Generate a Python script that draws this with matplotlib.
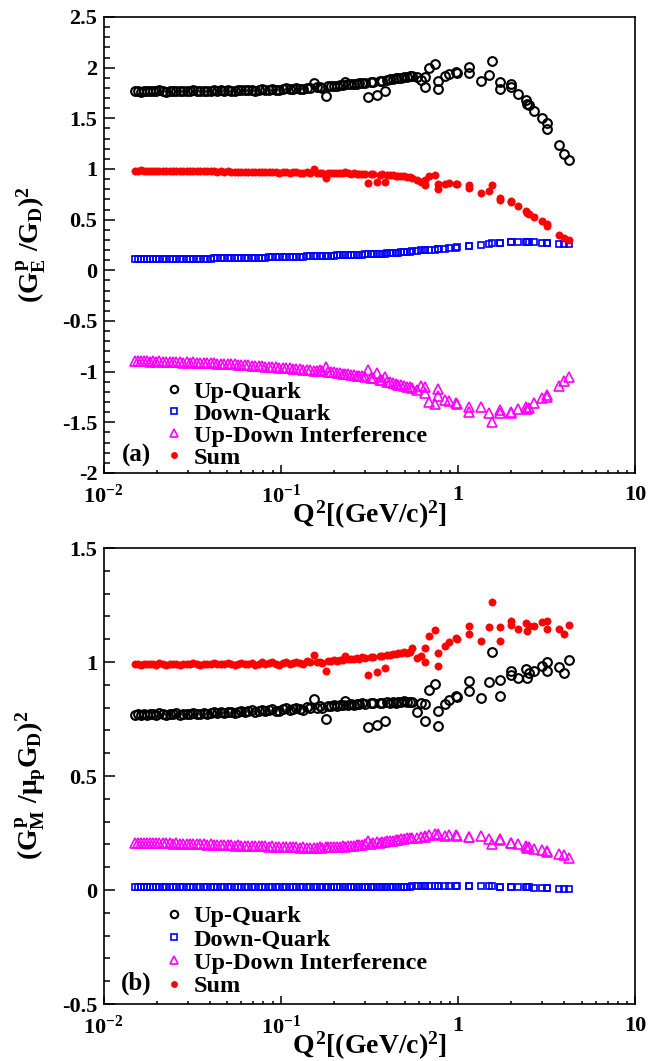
"""Quark flavour decomposition of the proton form factors (two panels)
"""

import numpy as np
import matplotlib
matplotlib.use('Agg')
import matplotlib.pyplot as plt
from matplotlib.ticker import (FixedLocator, FixedFormatter, MultipleLocator,
                               LogLocator, NullFormatter, FuncFormatter)

# ---------------------------------------------------------------- data
# Q^2 in (GeV/c)^2, shared by both panels and all four series
q2 = [
    # dense low-Q2 part
    0.0151, 0.0157, 0.0163, 0.0169, 0.0176, 0.0183, 0.0190, 0.0198, 0.0207, 0.0216,
    0.0226, 0.0236, 0.0247, 0.0258, 0.0270, 0.0282, 0.0295, 0.0308, 0.0322, 0.0337,
    0.0352, 0.0368, 0.0385, 0.0403, 0.0421, 0.0440, 0.0460, 0.0481, 0.0503, 0.0526,
    0.0550, 0.0575, 0.0601, 0.0628, 0.0657, 0.0687, 0.0718, 0.0751, 0.0785, 0.0821,
    0.0858, 0.0897, 0.0938, 0.0981, 0.1026, 0.1073, 0.1122, 0.1173, 0.1226, 0.1282,
    0.1340, 0.1401, 0.1465,
    # scattered points
    0.155, 0.180, 0.231, 0.311, 0.349, 0.387,
    # dense mid part
    0.160, 0.166, 0.172, 0.186, 0.193, 0.200, 0.208, 0.216, 0.224, 0.240,
    0.249, 0.258, 0.268, 0.278, 0.289, 0.300, 0.322, 0.334, 0.362, 0.375,
    0.400, 0.415, 0.430, 0.446, 0.462, 0.479, 0.497, 0.516, 0.535,
    # high-Q2 part
    0.549, 0.588, 0.620, 0.653, 0.653, 0.690, 0.739, 0.774, 0.774, 0.847,
    0.887, 0.971, 0.993, 1.150, 1.150, 1.349, 1.497, 1.567, 1.740, 1.740,
    1.988, 1.988, 2.177, 2.440, 2.470, 2.510, 2.707, 2.990, 3.175, 3.175,
    3.724, 3.988, 4.228,
]

# panel (a): (G_E^p / G_D)^2
up_a = [
    1.765, 1.768, 1.762, 1.770, 1.766, 1.772, 1.768, 1.765, 1.776, 1.770,
    1.764, 1.771, 1.768, 1.774, 1.766, 1.770, 1.772, 1.769, 1.775, 1.771,
    1.768, 1.774, 1.770, 1.772, 1.778, 1.770, 1.775, 1.772, 1.779, 1.774,
    1.770, 1.776, 1.781, 1.775, 1.778, 1.784, 1.772, 1.780, 1.786, 1.778,
    1.783, 1.790, 1.781, 1.776, 1.788, 1.795, 1.785, 1.792, 1.798, 1.790,
    1.786, 1.802, 1.795,
    1.853, 1.722, 1.863, 1.706, 1.729, 1.765,
    1.805, 1.812, 1.800, 1.815, 1.818, 1.822, 1.820, 1.826, 1.830, 1.834,
    1.838, 1.836, 1.842, 1.845, 1.848, 1.852, 1.858, 1.862, 1.865, 1.872,
    1.878, 1.884, 1.890, 1.895, 1.900, 1.898, 1.905, 1.910, 1.915,
    1.920, 1.910, 1.880, 1.910, 1.810, 2.000, 2.040, 1.873, 1.788, 1.918,
    1.937, 1.960, 1.944, 2.010, 1.944, 1.873, 1.929, 2.067, 1.863, 1.788,
    1.837, 1.814, 1.738, 1.676, 1.644, 1.627, 1.574, 1.502, 1.453, 1.397,
    1.235, 1.150, 1.090,
]
down_a = [
    0.108, 0.108, 0.109, 0.109, 0.109, 0.110, 0.110, 0.110, 0.111, 0.111,
    0.111, 0.112, 0.112, 0.112, 0.113, 0.113, 0.113, 0.114, 0.114, 0.115,
    0.115, 0.115, 0.116, 0.116, 0.117, 0.117, 0.118, 0.118, 0.119, 0.119,
    0.120, 0.120, 0.121, 0.122, 0.122, 0.123, 0.124, 0.124, 0.125, 0.126,
    0.127, 0.127, 0.128, 0.129, 0.130, 0.131, 0.132, 0.133, 0.134, 0.135,
    0.136, 0.137, 0.139,
    0.140, 0.143, 0.150, 0.160, 0.163, 0.166,
    0.140, 0.141, 0.142, 0.144, 0.145, 0.146, 0.147, 0.148, 0.149, 0.151,
    0.152, 0.153, 0.154, 0.155, 0.156, 0.158, 0.160, 0.162, 0.165, 0.166,
    0.169, 0.170, 0.172, 0.174, 0.175, 0.177, 0.179, 0.181, 0.183,
    0.190, 0.193, 0.196, 0.198, 0.198, 0.201, 0.205, 0.208, 0.208, 0.214,
    0.218, 0.224, 0.226, 0.238, 0.238, 0.250, 0.262, 0.266, 0.272, 0.272,
    0.276, 0.276, 0.277, 0.277, 0.277, 0.277, 0.276, 0.274, 0.272, 0.272,
    0.262, 0.258, 0.255,
]
int_a = [
    -0.895, -0.897, -0.893, -0.899, -0.896, -0.900, -0.898, -0.902, -0.899, -0.904,
    -0.901, -0.906, -0.903, -0.908, -0.905, -0.910, -0.907, -0.912, -0.909, -0.914,
    -0.912, -0.917, -0.914, -0.919, -0.917, -0.922, -0.920, -0.925, -0.923, -0.928,
    -0.927, -0.932, -0.931, -0.936, -0.935, -0.940, -0.940, -0.945, -0.944, -0.950,
    -0.950, -0.955, -0.955, -0.960, -0.961, -0.966, -0.967, -0.972, -0.973, -0.978,
    -0.979, -0.984, -0.986,
    -0.995, -0.950, -1.020, -0.984, -1.016, -1.049,
    -0.990, -0.985, -0.995, -1.000, -1.005, -1.008, -1.012, -1.015, -1.020, -1.025,
    -1.030, -1.033, -1.038, -1.042, -1.047, -1.052, -1.060, -1.066, -1.078, -1.085,
    -1.098, -1.105, -1.113, -1.120, -1.128, -1.135, -1.142, -1.148, -1.155,
    -1.164, -1.180, -1.140, -1.148, -1.213, -1.295, -1.321, -1.236, -1.174, -1.279,
    -1.285, -1.311, -1.318, -1.351, -1.400, -1.344, -1.410, -1.498, -1.377, -1.410,
    -1.410, -1.400, -1.367, -1.344, -1.367, -1.360, -1.311, -1.262, -1.230, -1.246,
    -1.141, -1.092, -1.056,
]
sum_a = [
    0.985, 0.984, 0.986, 0.983, 0.985, 0.984, 0.982, 0.984, 0.985, 0.981,
    0.983, 0.980, 0.982, 0.983, 0.979, 0.981, 0.980, 0.978, 0.981, 0.977,
    0.979, 0.976, 0.978, 0.977, 0.979, 0.974, 0.976, 0.974, 0.976, 0.973,
    0.971, 0.973, 0.975, 0.970, 0.972, 0.974, 0.968, 0.970, 0.973, 0.967,
    0.969, 0.972, 0.966, 0.963, 0.968, 0.971, 0.964, 0.966, 0.969, 0.962,
    0.960, 0.967, 0.962,
    0.997, 0.908, 0.975, 0.860, 0.870, 0.870,
    0.962, 0.960, 0.958, 0.961, 0.958, 0.960, 0.957, 0.959, 0.956, 0.958,
    0.955, 0.957, 0.953, 0.955, 0.952, 0.954, 0.950, 0.948, 0.945, 0.947,
    0.942, 0.940, 0.938, 0.935, 0.933, 0.930, 0.928, 0.925, 0.922,
    0.913, 0.887, 0.870, 0.887, 0.838, 0.926, 0.943, 0.854, 0.798, 0.854,
    0.860, 0.854, 0.848, 0.838, 0.815, 0.762, 0.779, 0.838, 0.716, 0.690,
    0.684, 0.675, 0.631, 0.585, 0.566, 0.560, 0.526, 0.487, 0.454, 0.434,
    0.352, 0.323, 0.303,
]

# panel (b): (G_M^p / mu_p G_D)^2
up_b = [
    0.768, 0.770, 0.766, 0.771, 0.769, 0.772, 0.770, 0.768, 0.775, 0.772,
    0.767, 0.773, 0.771, 0.775, 0.769, 0.772, 0.774, 0.772, 0.777, 0.774,
    0.772, 0.777, 0.774, 0.776, 0.780, 0.775, 0.779, 0.777, 0.782, 0.779,
    0.776, 0.781, 0.785, 0.780, 0.783, 0.788, 0.779, 0.785, 0.790, 0.784,
    0.788, 0.794, 0.787, 0.783, 0.792, 0.798, 0.790, 0.795, 0.800, 0.794,
    0.791, 0.803, 0.797,
    0.838, 0.750, 0.827, 0.713, 0.724, 0.740,
    0.800, 0.805, 0.798, 0.808, 0.806, 0.810, 0.808, 0.812, 0.810, 0.813,
    0.815, 0.812, 0.816, 0.814, 0.818, 0.816, 0.820, 0.818, 0.822, 0.819,
    0.823, 0.821, 0.825, 0.822, 0.826, 0.824, 0.827, 0.823, 0.826,
    0.825, 0.781, 0.820, 0.817, 0.743, 0.879, 0.905, 0.784, 0.718, 0.817,
    0.832, 0.849, 0.846, 0.915, 0.871, 0.842, 0.911, 1.042, 0.922, 0.852,
    0.959, 0.944, 0.930, 0.969, 0.930, 0.952, 0.959, 0.981, 0.999, 0.959,
    0.978, 0.952, 1.010,
]
down_b = [
    0.011, 0.012, 0.012, 0.011, 0.012, 0.012, 0.011, 0.012, 0.012, 0.012,
    0.011, 0.012, 0.012, 0.012, 0.012, 0.011, 0.012, 0.012, 0.012, 0.012,
    0.012, 0.012, 0.012, 0.011, 0.012, 0.012, 0.012, 0.012, 0.012, 0.012,
    0.012, 0.012, 0.012, 0.012, 0.012, 0.012, 0.012, 0.012, 0.012, 0.012,
    0.012, 0.012, 0.012, 0.012, 0.012, 0.012, 0.012, 0.012, 0.012, 0.012,
    0.012, 0.012, 0.012,
    0.012, 0.012, 0.013, 0.013, 0.013, 0.014,
    0.012, 0.012, 0.012, 0.012, 0.012, 0.012, 0.012, 0.013, 0.013, 0.013,
    0.013, 0.013, 0.013, 0.013, 0.013, 0.013, 0.014, 0.014, 0.014, 0.014,
    0.014, 0.014, 0.014, 0.015, 0.015, 0.015, 0.015, 0.015, 0.015,
    0.016, 0.016, 0.017, 0.017, 0.017, 0.017, 0.018, 0.018, 0.018, 0.018,
    0.018, 0.018, 0.018, 0.017, 0.017, 0.016, 0.016, 0.016, 0.014, 0.014,
    0.013, 0.013, 0.012, 0.011, 0.011, 0.011, 0.010, 0.009, 0.008, 0.008,
    0.006, 0.005, 0.004,
]
int_b = [
    0.207, 0.208, 0.206, 0.207, 0.206, 0.207, 0.205, 0.206, 0.205, 0.204,
    0.205, 0.204, 0.203, 0.204, 0.202, 0.203, 0.202, 0.201, 0.202, 0.200,
    0.201, 0.200, 0.199, 0.200, 0.198, 0.199, 0.197, 0.198, 0.196, 0.197,
    0.195, 0.196, 0.194, 0.195, 0.193, 0.194, 0.192, 0.193, 0.191, 0.192,
    0.190, 0.191, 0.190, 0.189, 0.190, 0.188, 0.189, 0.187, 0.188, 0.186,
    0.187, 0.186, 0.186,
    0.183, 0.190, 0.190, 0.215, 0.210, 0.212,
    0.186, 0.187, 0.186, 0.188, 0.188, 0.189, 0.190, 0.190, 0.191, 0.193,
    0.194, 0.195, 0.196, 0.197, 0.199, 0.200, 0.203, 0.205, 0.208, 0.210,
    0.213, 0.215, 0.217, 0.219, 0.221, 0.222, 0.224, 0.226, 0.228,
    0.230, 0.230, 0.232, 0.235, 0.232, 0.240, 0.244, 0.245, 0.240, 0.238,
    0.240, 0.240, 0.238, 0.233, 0.233, 0.238, 0.222, 0.200, 0.222, 0.220,
    0.208, 0.208, 0.200, 0.192, 0.185, 0.190, 0.180, 0.175, 0.170, 0.168,
    0.160, 0.152, 0.142,
]
sum_b = [
    0.990, 0.992, 0.989, 0.991, 0.990, 0.993, 0.991, 0.989, 0.994, 0.991,
    0.988, 0.992, 0.990, 0.993, 0.989, 0.991, 0.992, 0.990, 0.994, 0.991,
    0.989, 0.993, 0.990, 0.992, 0.995, 0.990, 0.993, 0.991, 0.995, 0.992,
    0.989, 0.993, 0.996, 0.991, 0.993, 0.997, 0.989, 0.993, 0.998, 0.991,
    0.994, 0.999, 0.992, 0.988, 0.996, 1.001, 0.993, 0.997, 1.002, 0.995,
    0.992, 1.004, 0.998,
    1.029, 0.959, 1.028, 0.942, 0.955, 0.974,
    0.998, 1.002, 0.996, 1.005, 1.003, 1.008, 1.006, 1.010, 1.008, 1.012,
    1.015, 1.012, 1.017, 1.015, 1.020, 1.018, 1.024, 1.022, 1.028, 1.025,
    1.032, 1.030, 1.036, 1.033, 1.040, 1.038, 1.045, 1.040, 1.046,
    1.061, 1.018, 1.025, 1.061, 0.999, 1.116, 1.142, 1.039, 0.984, 1.072,
    1.086, 1.105, 1.101, 1.159, 1.123, 1.094, 1.152, 1.262, 1.153, 1.094,
    1.178, 1.164, 1.146, 1.171, 1.137, 1.156, 1.156, 1.174, 1.178, 1.145,
    1.146, 1.123, 1.164,
]

series_names = ['Up-Quark', 'Down-Quark', 'Up-Down Interference', 'Sum']
xtick_pos = [0.01, 0.1, 1, 10]
xtick_labels = ['$10^{-2}$', '$10^{-1}$', '1', '10']

# ---------------------------------------------------------------- style
plt.rcParams['font.family'] = ['Liberation Serif', 'DejaVu Serif']
plt.rcParams['font.weight'] = 'bold'
plt.rcParams['mathtext.fontset'] = 'custom'
plt.rcParams['mathtext.rm'] = 'Liberation Serif:bold'
plt.rcParams['mathtext.it'] = 'Liberation Serif:bold'
plt.rcParams['mathtext.bf'] = 'Liberation Serif:bold'
plt.rcParams['axes.unicode_minus'] = False

W, H = 649, 1061
TICK_FS = 16
TITLE_FS = 20
LEG_FS = 17.5

marker_styles = [
    dict(marker='o', ms=6.3, mfc='none', mec='black', mew=1.5),
    dict(marker='s', ms=5.0, mfc='none', mec='blue', mew=1.2),
    dict(marker='^', ms=6.5, mfc='none', mec='magenta', mew=1.2),
    dict(marker='o', ms=5.2, mfc='red', mec='red', mew=0.5),
]


def panel_settings(ax, ylim, ylabel, ylabel_y, tag, leg_y, leg_sp):
    """Gives an axis the ROOT-like look of the reference"""
    ax.set_xscale('log')
    ax.set_xlim(0.01, 10)
    ax.set_ylim(*ylim)

    # Ticks
    ax.xaxis.set_major_locator(FixedLocator(xtick_pos))
    ax.xaxis.set_major_formatter(FixedFormatter(xtick_labels))
    ax.xaxis.set_minor_locator(LogLocator(base=10, subs=np.arange(2, 10)))
    ax.xaxis.set_minor_formatter(NullFormatter())
    ax.yaxis.set_major_locator(MultipleLocator(0.5))
    ax.yaxis.set_minor_locator(MultipleLocator(0.1))
    ax.yaxis.set_major_formatter(FuncFormatter(lambda v, p: '%g' % v))
    ax.tick_params(which='both', direction='in', top=False, right=False,
                   width=1.1, labelsize=TICK_FS)
    ax.tick_params(axis='y', which='major', length=8, pad=4.5)
    ax.tick_params(axis='y', which='minor', length=4)
    ax.tick_params(axis='x', which='major', length=6, pad=8.5)
    ax.tick_params(axis='x', which='minor', length=2.5)
    for sp in ax.spines.values():
        sp.set_linewidth(1.2)

    # Titles
    ax.set_xlabel(r'$Q^{2}[(GeV/c)^{2}]$', fontsize=TITLE_FS)
    ax.xaxis.set_label_coords(0.5, -0.057)
    ax.set_ylabel(ylabel, fontsize=TITLE_FS)
    ax.yaxis.set_label_coords(-0.104, ylabel_y)

    # Legend and panel tag
    ax.legend(loc='lower left', bbox_to_anchor=(0.116, leg_y),
              frameon=False, fontsize=LEG_FS, borderpad=0, borderaxespad=0,
              handlelength=0.75, handletextpad=0.42, labelspacing=leg_sp,
              markerscale=0.85)
    ax.text(0.062, leg_y + 0.03, tag, transform=ax.transAxes, fontsize=18,
            ha='center', va='center')


fig = plt.figure(figsize=(W / 100, H / 100), dpi=100)
ax_a = fig.add_axes([103.5 / W, 1 - 473 / H, 531.5 / W, 456 / H])
ax_b = fig.add_axes([103.5 / W, 1 - 1004 / H, 531.5 / W, 456 / H])

for ax, values in ((ax_a, (up_a, down_a, int_a, sum_a)),
                   (ax_b, (up_b, down_b, int_b, sum_b))):
    for name, vals, st in zip(series_names, values, marker_styles):
        ax.plot(q2, vals, linestyle='none', label=name, **st)

panel_settings(ax_a, (-2, 2.5), r'$(G_{E}^{p}\ /G_{D})^{2}$', 0.5, '(a)',
               0.009, 0.0)
panel_settings(ax_b, (-0.5, 1.5), r'$(G_{M}^{p}\ /\mu_{p}G_{D})^{2}$', 0.48,
               '(b)', 0.015, 0.05)

fig.savefig('out.png', dpi=100)
